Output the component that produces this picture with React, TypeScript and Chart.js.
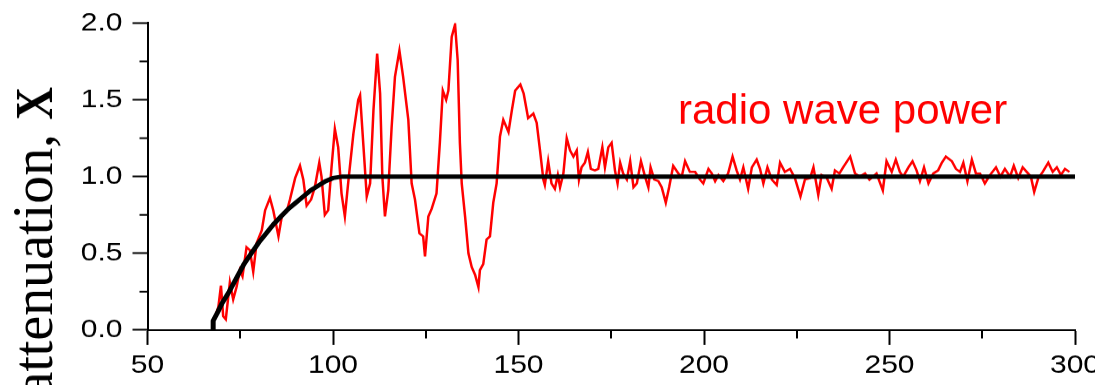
import React, { useEffect, useRef } from 'react';
import { Chart, registerables } from 'chart.js';

Chart.register(...registerables);

// ---- data ----
const powerX = [
  67.7, 69.1, 69.8, 70.4, 71.1, 72.2, 73.1, 74.0, 74.9, 75.6, 76.7, 77.6, 78.5, 79.4, 80.8, 81.7, 83.0, 83.9, 84.4, 85.3,
  86.2, 87.5, 88.4, 89.8, 91.1, 92.0, 92.9, 94.1, 95.1, 96.3, 96.9, 97.8, 98.7, 99.6, 100.5, 101.4, 102.3, 103.2, 104.1, 105.5,
  106.8, 107.3, 108.2, 109.1, 110.0, 110.9, 111.9, 112.7, 113.3, 114.0, 114.9, 115.8, 116.7, 117.9, 118.9, 120.3, 121.2, 122.1, 123.3, 124.3,
  124.8, 125.7, 126.6, 127.9, 128.8, 129.6, 130.5, 131.1, 132.0, 132.9, 133.6, 134.2, 134.7, 135.6, 136.5, 137.4, 138.3, 139.2, 139.6, 140.5,
  141.4, 142.3, 143.2, 144.1, 145.0, 145.9, 147.3, 148.2, 149.1, 150.5, 151.4, 152.6, 154.0, 154.9, 155.8, 156.7, 157.1, 158.0, 158.9, 159.8,
  160.6, 161.2, 162.1, 163.0, 163.9, 164.8, 165.7, 166.3, 167.0, 167.9, 168.7, 169.5, 170.6, 171.5, 172.6, 173.3, 174.2, 175.1, 176.0, 176.7,
  177.4, 178.2, 179.2, 180.1, 181.0, 181.9, 183.0, 184.1, 185.0, 185.6, 186.6, 187.7, 188.6, 189.7, 190.6, 191.7, 193.1, 194.0, 194.9, 196.2,
  197.6, 198.9, 199.8, 201.2, 202.1, 203.0, 203.9, 205.2, 206.5, 207.7, 208.8, 209.7, 210.6, 211.9, 212.9, 214.2, 215.1, 216.0, 217.1, 218.3,
  219.6, 220.5, 221.8, 223.2, 224.5, 226.0, 227.2, 228.6, 229.5, 230.8, 231.7, 233.1, 234.4, 235.3, 236.5, 237.5, 239.4, 240.7, 242.0, 243.4,
  244.6, 245.6, 246.5, 248.2, 249.2, 250.6, 251.7, 252.8, 253.7, 255.1, 256.2, 257.3, 258.2, 259.3, 260.5, 261.8, 263.1, 264.1, 265.2, 266.8,
  267.9, 269.0, 269.9, 271.0, 272.2, 273.3, 274.4, 275.7, 277.1, 278.7, 279.9, 281.1, 282.5, 283.5, 284.7, 285.9, 287.0, 288.1, 289.0, 290.1,
  291.3, 292.8, 294.0, 295.1, 296.2, 297.3, 298.5,
];
const powerY = [
  0.05, 0.15, 0.29, 0.09, 0.07, 0.31, 0.20, 0.28, 0.39, 0.35, 0.54, 0.52, 0.38, 0.565, 0.65, 0.78, 0.86, 0.78, 0.72, 0.61,
  0.74, 0.77, 0.85, 0.99, 1.07, 0.98, 0.81, 0.85, 0.93, 1.09, 1.00, 0.75, 0.78, 1.06, 1.31, 1.19, 0.89, 0.74, 0.96, 1.28,
  1.50, 1.53, 1.20, 0.87, 0.955, 1.43, 1.80, 1.54, 1.00, 0.74, 0.91, 1.32, 1.65, 1.82, 1.65, 1.37, 0.955, 0.85, 0.63, 0.61,
  0.48, 0.74, 0.79, 0.89, 1.22, 1.56, 1.50, 1.56, 1.91, 1.99, 1.76, 1.22, 0.955, 0.74, 0.50, 0.41, 0.36, 0.28, 0.39, 0.43,
  0.59, 0.61, 0.83, 0.955, 1.26, 1.37, 1.29, 1.43, 1.56, 1.60, 1.54, 1.38, 1.41, 1.35, 1.17, 0.98, 0.945, 1.10, 0.955, 0.92,
  1.01, 0.93, 1.02, 1.25, 1.17, 1.13, 1.17, 0.98, 1.06, 1.09, 1.16, 1.05, 1.04, 1.05, 1.19, 1.06, 1.19, 1.22, 1.04, 0.955,
  1.09, 1.02, 0.98, 1.10, 0.93, 0.955, 1.10, 1.00, 0.93, 1.06, 0.98, 0.97, 0.93, 0.83, 0.93, 1.07, 1.02, 1.00, 1.10, 1.03,
  1.03, 0.98, 0.955, 1.05, 1.02, 0.97, 1.01, 0.97, 1.02, 1.13, 1.04, 0.98, 1.06, 0.92, 1.06, 1.11, 1.05, 0.955, 1.06, 0.98,
  0.945, 1.09, 1.03, 1.05, 0.99, 0.87, 0.98, 0.99, 1.06, 0.88, 1.01, 0.99, 0.92, 1.04, 1.02, 1.06, 1.13, 1.02, 1.00, 1.02,
  0.98, 1.00, 1.02, 0.91, 1.10, 1.03, 1.11, 1.03, 1.00, 1.06, 1.10, 1.04, 0.97, 1.06, 0.955, 1.02, 1.04, 1.09, 1.13, 1.10,
  1.05, 1.03, 1.09, 0.97, 1.11, 1.02, 1.02, 0.955, 1.01, 1.06, 1.00, 1.05, 1.00, 1.07, 0.99, 1.06, 1.03, 1.00, 0.90, 0.99,
  1.03, 1.09, 1.03, 1.06, 1.01, 1.05, 1.03,
];

const attenX = [67.7, 67.7, 69, 70, 72, 74, 76, 78, 80, 82, 84, 86, 88, 90, 92, 94, 96, 98, 100, 102.5, 300];
const attenY = [0, 0.06, 0.12, 0.17, 0.25, 0.34, 0.43, 0.50, 0.57, 0.63, 0.69, 0.74, 0.79, 0.83, 0.87, 0.91, 0.94, 0.97, 0.99, 1.0, 1.0];

const xTickLabels = ['50', '100', '150', '200', '250', '300'];
const yTickLabels = ['0.0', '0.5', '1.0', '1.5', '2.0'];

const yTitleMain = 'attenuation, ';
const yTitleSymbol = 'X';
const seriesLabel = 'radio wave power';

// ---- layout ----
const W = 1095;
const SCREEN_H = 385;
const H = 442; // drawing height, squeezed to SCREEN_H on screen
const K = SCREEN_H / H;

const SANS = '"Liberation Sans", Arial, Helvetica, sans-serif';
const SERIF = '"Liberation Serif", "Times New Roman", Times, serif';

const isMajorX = (v: number) => xTickLabels.includes(String(v));
const isMajorY = (v: number) => yTickLabels.includes(Number(v).toFixed(1)) && Math.abs(v * 2 - Math.round(v * 2)) < 1e-9;

const decorPlugin = {
  id: 'decor',
  afterDraw(chart: any) {
    const { ctx, chartArea, scales } = chart;
    const xs = scales.x;
    const ys = scales.y;
    ctx.save();
    ctx.strokeStyle = '#000';
    ctx.lineWidth = 2;
    // minor ticks
    xs.ticks.forEach((t: any) => {
      if (!isMajorX(t.value)) {
        const px = Math.round(xs.getPixelForValue(t.value));
        ctx.beginPath();
        ctx.moveTo(px, chartArea.bottom);
        ctx.lineTo(px, chartArea.bottom + 9.5);
        ctx.stroke();
      }
    });
    ys.ticks.forEach((t: any) => {
      if (!isMajorY(t.value)) {
        const py = ys.getPixelForValue(t.value);
        ctx.beginPath();
        ctx.moveTo(chartArea.left, py);
        ctx.lineTo(chartArea.left - 8, py);
        ctx.stroke();
      }
    });
    ctx.restore();

    // y-axis title (rotated, serif, bold X)
    ctx.save();
    ctx.translate(52, 100);
    ctx.rotate(-Math.PI / 2);
    ctx.fillStyle = '#000';
    ctx.textAlign = 'right';
    ctx.textBaseline = 'alphabetic';
    ctx.font = `bold 52px ${SERIF}`;
    ctx.fillText(yTitleSymbol, 0, 0);
    const wX = ctx.measureText(yTitleSymbol).width;
    ctx.scale(1 / K, 1);
    ctx.font = `56px ${SERIF}`;
    ctx.fillText(yTitleMain, -wX * K, 0);
    ctx.restore();

    // series annotation
    ctx.save();
    ctx.translate(678, 124 / K);
    ctx.scale(1, 1 / K);
    ctx.fillStyle = '#ff0000';
    ctx.textAlign = 'left';
    ctx.textBaseline = 'alphabetic';
    ctx.font = `42px ${SANS}`;
    ctx.fillText(seriesLabel, 0, 0);
    ctx.restore();
  },
};

export default function App() {
  const ref = useRef<HTMLCanvasElement | null>(null);

  useEffect(() => {
    if (!ref.current) return;
    const power = powerX.map((x, i) => ({ x, y: powerY[i] }));
    const atten = attenX.map((x, i) => ({ x, y: attenY[i] }));
    const chart = new Chart(ref.current, {
      type: 'line',
      data: {
        datasets: [
          {
            label: 'attenuation',
            data: atten,
            borderColor: '#000000',
            backgroundColor: '#000000',
            borderWidth: 5,
            pointRadius: 0,
            tension: 0,
            order: 1,
          },
          {
            label: seriesLabel,
            data: power,
            borderColor: '#ff0000',
            backgroundColor: '#ff0000',
            borderWidth: 2.5,
            pointRadius: 0,
            tension: 0,
            order: 2,
          },
        ],
      },
      options: {
        responsive: false,
        animation: false,
        devicePixelRatio: 1,
        events: [],
        layout: { padding: { left: 0, right: 20, top: 26.4, bottom: 0 } },
        plugins: { legend: { display: false }, tooltip: { enabled: false }, title: { display: false } },
        scales: {
          x: {
            type: 'linear',
            min: 50,
            max: 300,
            afterFit: (s: any) => {
              s.height = H - 378.9;
              s.paddingLeft = 0;
              s.paddingRight = 0;
            },
            border: { display: true, color: '#000', width: 2 },
            grid: {
              display: true,
              drawOnChartArea: false,
              drawTicks: true,
              tickLength: 17,
              tickWidth: 2,
              tickColor: (c: any) => (c.tick && isMajorX(c.tick.value) ? '#000' : 'rgba(0,0,0,0)'),
            },
            ticks: {
              stepSize: 25,
              autoSkip: false,
              maxRotation: 0,
              padding: 6,
              color: '#000',
              font: { family: SANS, size: 30 },
              callback: (v: any) => (isMajorX(Number(v)) ? String(v) : ''),
            },
          },
          y: {
            type: 'linear',
            min: 0,
            max: 2,
            afterFit: (s: any) => {
              s.width = 147.5;
              s.paddingTop = 0;
              s.paddingBottom = 0;
            },
            border: { display: true, color: '#000', width: 2 },
            grid: {
              display: true,
              drawOnChartArea: false,
              drawTicks: true,
              tickLength: 15,
              tickWidth: 2,
              tickColor: (c: any) => (c.tick && isMajorY(c.tick.value) ? '#000' : 'rgba(0,0,0,0)'),
            },
            ticks: {
              stepSize: 0.25,
              autoSkip: false,
              padding: 10,
              color: '#000',
              font: { family: SANS, size: 30 },
              callback: (v: any) => (isMajorY(Number(v)) ? Number(v).toFixed(1) : ''),
            },
          },
        },
      },
      plugins: [decorPlugin],
    } as any);
    return () => chart.destroy();
  }, []);

  return (
    <div style={{ position: 'absolute', left: 0, top: 0, width: W, height: SCREEN_H, background: '#fff', overflow: 'hidden' }}>
      <canvas ref={ref} width={W} height={H} style={{ width: `${W}px`, height: `${SCREEN_H}px`, display: 'block' }} />
    </div>
  );
}
